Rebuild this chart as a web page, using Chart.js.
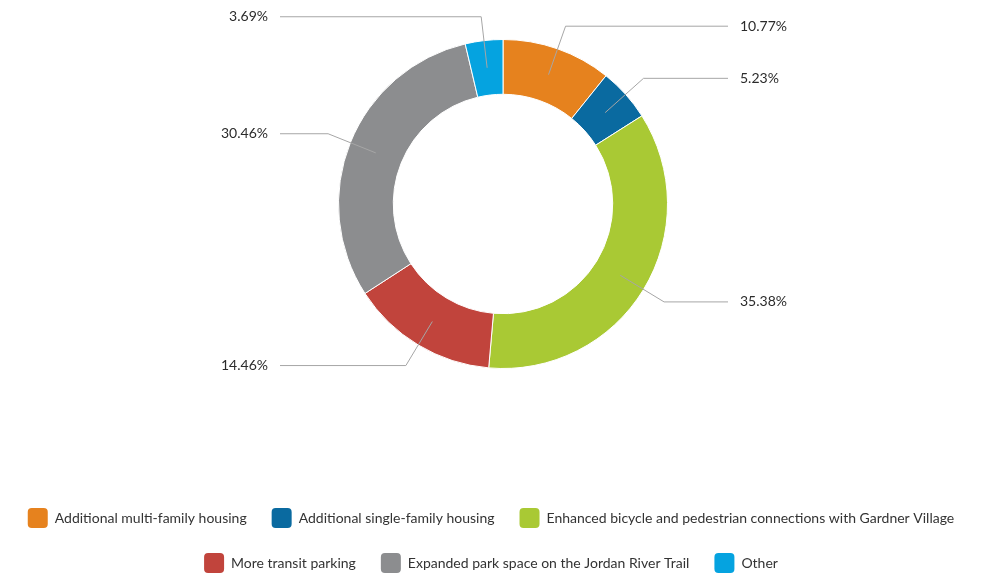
<!DOCTYPE html>
<html>
<head>
<meta charset="utf-8">
<script src="https://cdn.jsdelivr.net/npm/chart.js@4/dist/chart.umd.min.js"></script>
<style>
    html, body { margin: 0; padding: 0; background: #fff; }
    #wrap { width: 982px; height: 576px; position: relative; }
</style>
</head>
<body>
<div id="wrap"><canvas id="pieChart"></canvas></div>
<script>
const categories = [
    "Additional multi-family housing",
    "Additional single-family housing",
    "Enhanced bicycle and pedestrian connections with Gardner Village",
    "More transit parking",
    "Expanded park space on the Jordan River Trail",
    "Other",
];
const shares = [10.77, 5.23, 35.38, 14.46, 30.46, 3.69];
const sliceColors = ["#e6821e", "#0a6aa0", "#a9c934", "#c1443c", "#8c8d8f", "#05a3e0"];

const FONT = "Lato, 'Noto Sans', sans-serif";

// pin the ring and the legend where the original has them
const placeBoxes = {
    id: "placeBoxes",
    afterLayout(chart) {
        const cx = 503, cy = 204, r = 165;
        chart.chartArea = {
            left: cx - r, right: cx + r, top: cy - r, bottom: cy + r,
            width: 2 * r, height: 2 * r,
        };
        const lg = chart.legend;
        const h = lg.height;
        lg.top = 483;
        lg.bottom = 483 + h;
    },
};

// leader lines + percentage labels outside the ring
const leaderLabels = {
    id: "leaderLabels",
    afterDatasetsDraw(chart) {
        const ctx = chart.ctx;
        const arcs = chart.getDatasetMeta(0).data;
        ctx.save();
        ctx.font = "14px " + FONT;
        ctx.textBaseline = "middle";
        arcs.forEach((arc, i) => {
            const p = arc.getProps(["x", "y", "startAngle", "endAngle", "innerRadius", "outerRadius"], true);
            const mid = (p.startAngle + p.endAngle) / 2;
            const rIn = (p.innerRadius + p.outerRadius) / 2;
            const rEl = p.outerRadius + 24;
            const x0 = p.x + Math.cos(mid) * rIn;
            const y0 = p.y + Math.sin(mid) * rIn;
            const x1 = p.x + Math.cos(mid) * rEl;
            const y1 = p.y + Math.sin(mid) * rEl;
            const right = Math.cos(mid) >= 0 && i !== arcs.length - 1;
            const x2 = right ? p.x + 225 : p.x - 223;
            ctx.strokeStyle = "#a6a6a6";
            ctx.lineWidth = 1;
            ctx.beginPath();
            ctx.moveTo(x0, y0);
            ctx.lineTo(x1, y1);
            ctx.lineTo(x2, y1);
            ctx.stroke();
            ctx.fillStyle = "#2b2b2b";
            ctx.textAlign = right ? "left" : "right";
            ctx.fillText(shares[i] + "%", right ? x2 + 12 : x2 - 12, y1);
        });
        ctx.restore();
    },
};

new Chart(document.getElementById("pieChart").getContext("2d"), {
    type: "doughnut",
    data: {
        labels: categories,
        datasets: [
            {
                data: shares,
                backgroundColor: sliceColors,
                borderColor: "#ffffff",
                borderWidth: 1,
            },
        ],
    },
    options: {
        responsive: true,
        maintainAspectRatio: false,
        animation: false,
        cutout: "66.7%",
        plugins: {
            tooltip: { enabled: false },
            legend: {
                position: "bottom",
                labels: {
                    color: "#333333",
                    boxWidth: 20,
                    boxHeight: 20,
                    padding: 25,
                    useBorderRadius: true,
                    borderRadius: 4,
                    font: { size: 14, family: FONT },
                    generateLabels(chart) {
                        return categories.map((c, i) => ({
                            text: c,
                            fillStyle: sliceColors[i],
                            strokeStyle: sliceColors[i],
                            lineWidth: 0,
                            fontColor: "#333333",
                            borderRadius: 4,
                            index: i,
                        }));
                    },
                },
            },
        },
    },
    plugins: [placeBoxes, leaderLabels],
});
</script>
</body>
</html>
